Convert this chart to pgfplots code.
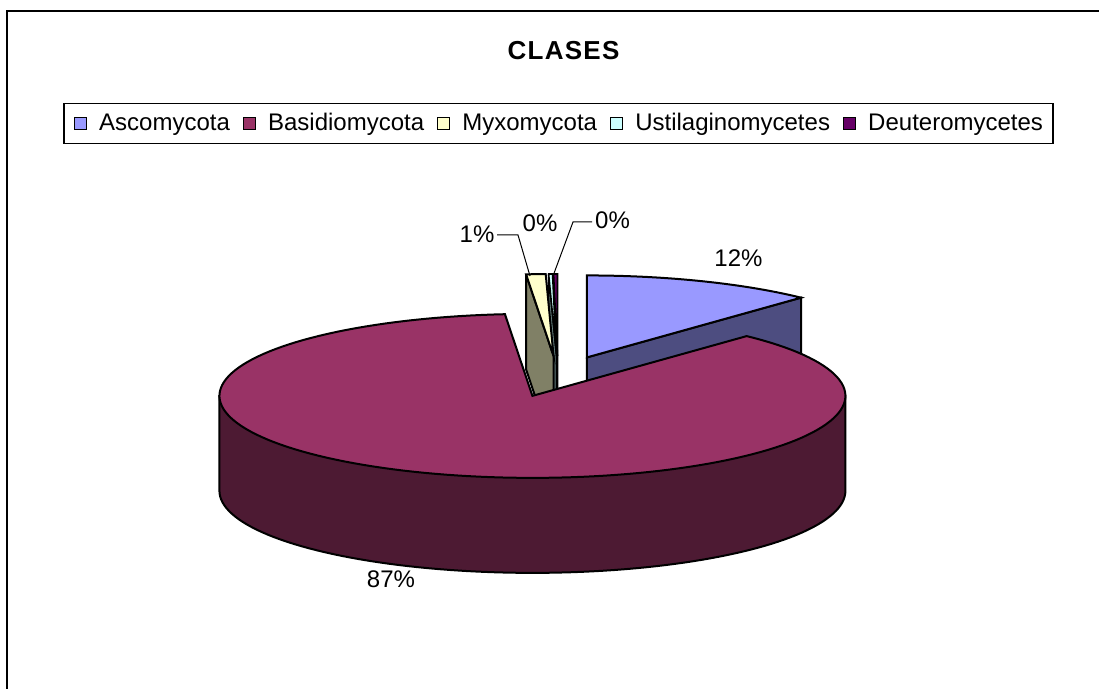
\documentclass[border=0pt]{standalone}
\usepackage{fontspec}
\setmainfont{Liberation Sans}
\newfontfamily\lsfont{Liberation Sans}
\newfontfamily\titlefont[LetterSpace=5]{Liberation Sans}
\usepackage{pgfplots}
\usepackage{pgfplotstable}
\pgfplotsset{compat=1.18}

\definecolor{ascoTop}{HTML}{9999FF}
\definecolor{ascoSide}{HTML}{4D4D80}
\definecolor{basTop}{HTML}{993366}
\definecolor{basSide}{HTML}{4D1A33}
\definecolor{myxTop}{HTML}{FFFFCC}
\definecolor{myxSide}{HTML}{808066}
\definecolor{ustTop}{HTML}{CCFFFF}
\definecolor{ustSide}{HTML}{668080}
\definecolor{deuTop}{HTML}{660066}
\definecolor{deuSide}{HTML}{330033}

\pgfplotstableread{
name value
Ascomycota 12.0
Basidiomycota 86.6
Myxomycota 1.0
Ustilaginomycetes 0.2
Deuteromycetes 0.2
}\piedata

\begin{document}
\begin{tikzpicture}
\pgfplotstablegetelem{0}{value}\of\piedata \let\vA\pgfplotsretval
\pgfplotstablegetelem{1}{value}\of\piedata \let\vB\pgfplotsretval
\pgfplotstablegetelem{2}{value}\of\piedata \let\vC\pgfplotsretval
\pgfplotstablegetelem{3}{value}\of\piedata \let\vD\pgfplotsretval
\pgfplotstablegetelem{4}{value}\of\piedata \let\vE\pgfplotsretval
% geometry (image pixel units)
\pgfmathsetmacro\cx{558}
\pgfmathsetmacro\cy{376.5}
\pgfmathsetmacro\rx{313}
\pgfmathsetmacro\ry{82}
\pgfmathsetmacro\dep{95}
\pgfmathsetmacro\ex{0.25}
\pgfmathsetmacro\tot{\vA+\vB+\vC+\vD+\vE}
\pgfmathsetmacro\bA{(\vA/\tot)*360}
\pgfmathsetmacro\bB{\bA+(\vB/\tot)*360}
\pgfmathsetmacro\bC{\bB+(\vC/\tot)*360}
\pgfmathsetmacro\bD{\bC+(\vD/\tot)*360}
\pgfmathsetmacro\bE{360}
% apexes (exploded)
\pgfmathsetmacro\mA{\bA/2}
\pgfmathsetmacro\mB{(\bA+\bB)/2}
\pgfmathsetmacro\mC{(\bB+\bC)/2}
\pgfmathsetmacro\mD{(\bC+\bD)/2}
\pgfmathsetmacro\mE{(\bD+\bE)/2}
\pgfmathsetmacro\pxA{\cx+\ex*\rx*sin(\mA)}\pgfmathsetmacro\pyA{\cy-\ex*\ry*cos(\mA)}
\pgfmathsetmacro\pxB{\cx+\ex*\rx*sin(\mB)}\pgfmathsetmacro\pyB{\cy-\ex*\ry*cos(\mB)}
\pgfmathsetmacro\pxC{\cx+\ex*\rx*sin(\mC)}\pgfmathsetmacro\pyC{\cy-\ex*\ry*cos(\mC)}
\pgfmathsetmacro\pxD{\cx+\ex*\rx*sin(\mD)}\pgfmathsetmacro\pyD{\cy-\ex*\ry*cos(\mD)}
\pgfmathsetmacro\pxE{\cx+\ex*\rx*sin(\mE)}\pgfmathsetmacro\pyE{\cy-\ex*\ry*cos(\mE)}
% radial faces
\pgfmathsetmacro\rAx{\pxA+\rx*sin(\bA)}\pgfmathsetmacro\rAy{\pyA-\ry*cos(\bA)}
\pgfmathsetmacro\rAyb{\rAy+\dep}\pgfmathsetmacro\pyAb{\pyA+\dep}
\pgfmathsetmacro\rCx{\pxC+\rx*sin(\bB)}\pgfmathsetmacro\rCy{\pyC-\ry*cos(\bB)}
\pgfmathsetmacro\rCyb{\rCy+\dep}\pgfmathsetmacro\pyCb{\pyC+\dep}
\pgfmathsetmacro\rDx{\pxD+\rx*sin(\bC)}\pgfmathsetmacro\rDy{\pyD-\ry*cos(\bC)}
\pgfmathsetmacro\rDyb{\rDy+\dep}\pgfmathsetmacro\pyDb{\pyD+\dep}
\pgfmathsetmacro\rEx{\pxE+\rx*sin(\bD)}\pgfmathsetmacro\rEy{\pyE-\ry*cos(\bD)}
\pgfmathsetmacro\rEyb{\rEy+\dep}\pgfmathsetmacro\pyEb{\pyE+\dep}
\pgfmathsetmacro\xBl{\pxB-\rx}\pgfmathsetmacro\xBr{\pxB+\rx}

\begin{axis}[name=ax,
  scale only axis, width=549.5pt, height=344.5pt,
  xmin=0, xmax=1099, ymin=0, ymax=689, y dir=reverse,
  axis lines=none, clip=false,
  legend columns=5,
  legend image code/.code={\draw[#1, line width=0.6pt] (0pt,-3pt) rectangle (6pt,3pt);},
  legend style={at={(axis cs:558.5,123.5)}, anchor=center, draw=black, line width=0.75pt,
    inner xsep=5pt, inner ysep=5pt, font=\lsfont\fontsize{12}{14}\selectfont,
    nodes={inner sep=0pt},
    /tikz/every odd column/.append style={column sep=6pt},
    /tikz/every even column/.append style={column sep=6.5pt}},
]
\addlegendimage{fill=ascoTop, draw=black}\addlegendentry{Ascomycota}
\addlegendimage{fill=basTop, draw=black}\addlegendentry{Basidiomycota}
\addlegendimage{fill=myxTop, draw=black}\addlegendentry{Myxomycota}
\addlegendimage{fill=ustTop, draw=black}\addlegendentry{Ustilaginomycetes}
\addlegendimage{fill=deuTop, draw=black}\addlegendentry{Deuteromycetes}

% Ascomycota
\addplot[forget plot, fill=ascoSide, draw=black, line width=1pt] coordinates {(\pxA,\pyA) (\rAx,\rAy) (\rAx,\rAyb) (\pxA,\pyAb) (\pxA,\pyA)};
\addplot[forget plot, fill=ascoTop, draw=black, line width=1pt, domain=0:\bA, samples=60, variable=\t]
  ({\pxA+\rx*sin(\t)},{\pyA-\ry*cos(\t)}) -- (\pxA,\pyA) -- cycle;
% Deuteromycetes
\addplot[forget plot, fill=deuSide, draw=black, line width=0.8pt] coordinates {(\rEx,\rEy) (\pxE,\pyE) (\pxE,\pyEb) (\rEx,\rEyb) (\rEx,\rEy)};
\addplot[forget plot, fill=deuTop, draw=black, line width=0.8pt, domain=\bD:\bE, samples=10, variable=\t]
  ({\pxE+\rx*sin(\t)},{\pyE-\ry*cos(\t)}) -- (\pxE,\pyE) -- cycle;
% Ustilaginomycetes
\addplot[forget plot, fill=ustSide, draw=black, line width=0.8pt] coordinates {(\rDx,\rDy) (\pxD,\pyD) (\pxD,\pyDb) (\rDx,\rDyb) (\rDx,\rDy)};
\addplot[forget plot, fill=ustTop, draw=black, line width=0.8pt, domain=\bC:\bD, samples=10, variable=\t]
  ({\pxD+\rx*sin(\t)},{\pyD-\ry*cos(\t)}) -- (\pxD,\pyD) -- cycle;
% Myxomycota
\addplot[forget plot, fill=myxSide, draw=black, line width=1pt] coordinates {(\rCx,\rCy) (\pxC,\pyC) (\pxC,\pyCb) (\rCx,\rCyb) (\rCx,\rCy)};
\addplot[forget plot, fill=myxTop, draw=black, line width=1pt, domain=\bB:\bC, samples=10, variable=\t]
  ({\pxC+\rx*sin(\t)},{\pyC-\ry*cos(\t)}) -- (\pxC,\pyC) -- cycle;
% Basidiomycota
\addplot[forget plot, fill=basSide, draw=black, line width=1pt, domain=90:270, samples=90, variable=\t]
  ({\pxB+\rx*sin(\t)},{\pyB+\dep-\ry*cos(\t)}) -- (\xBl,\pyB) -- (\xBr,\pyB) -- cycle;
\addplot[forget plot, fill=basTop, draw=black, line width=1pt, domain=\bA:\bB, samples=150, variable=\t]
  ({\pxB+\rx*sin(\t)},{\pyB-\ry*cos(\t)}) -- (\pxB,\pyB) -- cycle;

% leader lines
\draw[black, line width=0.5pt] (axis cs:497,235) -- (axis cs:518,235) -- (axis cs:530,276);
\draw[black, line width=0.5pt] (axis cs:592,222) -- (axis cs:573,222) -- (axis cs:553,276);

% labels
\begin{scope}[every node/.style={font=\lsfont\fontsize{12}{14}\selectfont, inner sep=0pt}]
\node at (axis cs:738.5,258.5) {12\%};
\node at (axis cs:391,579) {87\%};
\node at (axis cs:477,234.5) {1\%};
\node at (axis cs:540,223.5) {0\%};
\node at (axis cs:612.5,220) {0\%};
\end{scope}

\node[font=\titlefont\bfseries\fontsize{13}{15}\selectfont, inner sep=0pt] at (axis cs:563.5,50.5) {CLASES};

% chart border
\draw[black, line width=1pt] (axis cs:7,700) -- (axis cs:7,11.5) -- (axis cs:1110,11.5);
\end{axis}
\pgfresetboundingbox
\path (ax.south west) rectangle (ax.north east);
\end{tikzpicture}
\end{document}
